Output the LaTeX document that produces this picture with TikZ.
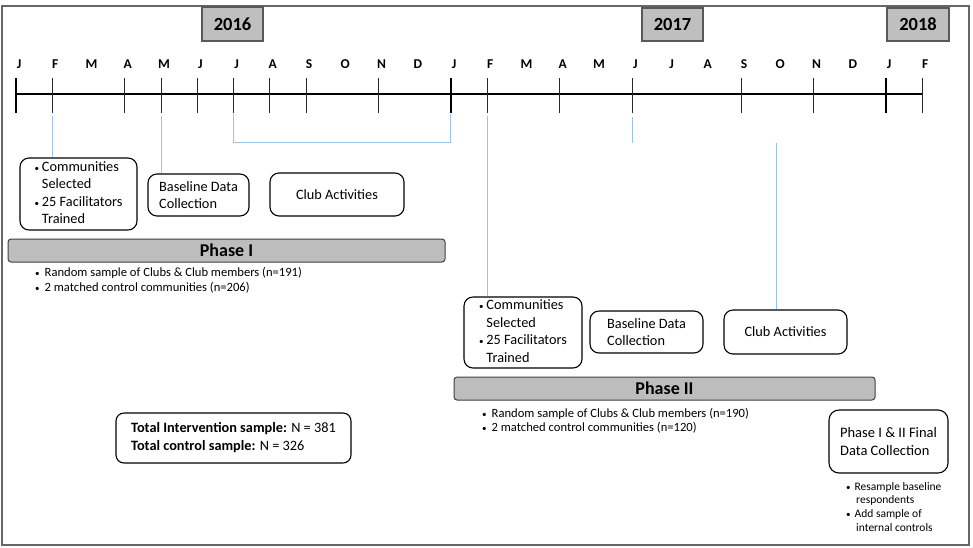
\documentclass[tikz,border=0pt]{standalone}
\usepackage{fontspec}
\setmainfont{Carlito}
\definecolor{connblue}{HTML}{9DC3E6}
\definecolor{yearfill}{HTML}{BFBFBF}
\definecolor{barfill}{HTML}{BDBDBD}
\begin{document}
\begin{tikzpicture}[x=1pt,y=-1pt,
  frame/.style={draw=black!60, line width=2pt},
  yearbox/.style={draw=black!65, line width=1.3pt, fill=yearfill, minimum width=61pt, minimum height=34pt, inner sep=0pt, font=\fontsize{18.5}{20}\selectfont\bfseries},
  monthlab/.style={font=\fontsize{13.5}{15}\selectfont\bfseries, inner sep=0pt},
  tickthin/.style={line width=0.8pt, draw=black!85},
  tickthick/.style={line width=2.4pt, draw=black},
  conn/.style={draw=connblue, line width=0.8pt},
  rbox/.style={draw=black, line width=1.1pt, rounded corners=9pt, inner sep=0pt, font=\fontsize{14.3}{17.5}\selectfont, align=left},
  phasebar/.style={draw=black!75, line width=1pt, fill=barfill, rounded corners=3pt, minimum height=23pt, inner sep=0pt, font=\fontsize{18}{20}\selectfont\bfseries},
  bline/.style={inner sep=0pt, anchor=base west, font=\fontsize{12.6}{15}\selectfont},
  fline/.style={inner sep=0pt, anchor=base west, font=\fontsize{11.5}{14}\selectfont}]
\useasboundingbox (0,0) rectangle (973,547);
\draw[frame] (1.5,5.5) rectangle (968.5,545);

% year boxes
\node[yearbox] (y16) at (232.5,24) {2016};
\node[yearbox, minimum height=33pt] (y17) at (672.5,24.5) {2017};
\node[yearbox, minimum height=33pt, minimum width=62pt] (y18) at (918,24.5) {2018};

% months
\foreach \m [count=\i from 0] in {J,F,M,A,M,J,J,A,S,O,N,D,J,F,M,A,M,J,J,A,S,O,N,D,J,F}
  \node[monthlab] (ml\i) at (19+36.25*\i, 64) {\m};

% timeline
\coordinate (t0) at (16,94);
\coordinate (t25) at (922.25,94);
\draw[line width=1.6pt] (t0) -- (t25);
\foreach \i in {1,3,4,5,6,7,8,10,13,15,17,20,22,25}
  \draw[tickthin] (16+36.25*\i,78) -- (16+36.25*\i,113);
\foreach \i in {0,12,24}
  \draw[tickthick] (16+36.25*\i,78) -- (16+36.25*\i,113);

% Phase I boxes
\node[rbox, minimum width=117pt, minimum height=72pt] (comm1) at (78.5,194)
  {\begin{tabular}{@{}l@{\hspace{3pt}}l@{}}{\small•} & Communities\\ & Selected\\ {\small•} & 25 Facilitators\\ & Trained\end{tabular}};
\node[rbox, minimum width=101pt, minimum height=42pt] (base1) at (198.5,195) {Baseline Data\\Collection};
\node[rbox, minimum width=134pt, minimum height=43pt] (club1) at (337,194.5) {Club Activities};
\node[phasebar, minimum width=437pt] (ph1) at (226.5,250.5) {Phase I};
\node[bline] (p1a) at (35,276) {{\small•}\hspace{5pt}Random sample of Clubs \& Club members (n=191)};
\node[bline] (p1b) at (35,291) {{\small•}\hspace{5pt}2 matched control communities (n=206)};

% Phase II boxes
\node[rbox, minimum width=118pt, minimum height=71pt] (comm2) at (523,332.5)
  {\begin{tabular}{@{}l@{\hspace{3pt}}l@{}}{\small•} & Communities\\ & Selected\\ {\small•} & 25 Facilitators\\ & Trained\end{tabular}};
\node[rbox, minimum width=113pt, minimum height=42pt] (base2) at (646.5,332) {Baseline Data\\Collection};
\node[rbox, minimum width=123pt, minimum height=44pt] (club2) at (785.5,332) {Club Activities};
\node[phasebar, minimum width=421pt] (ph2) at (664.5,388.5) {Phase II};
\node[bline] (p2a) at (482,417) {{\small•}\hspace{5pt}Random sample of Clubs \& Club members (n=190)};
\node[bline] (p2b) at (482,431) {{\small•}\hspace{5pt}2 matched control communities (n=120)};

% totals
\node[rbox, rounded corners=8pt, minimum width=235pt, minimum height=50pt, font=\fontsize{14.3}{18}\selectfont] (tot) at (233.5,438)
  {\textbf{Total Intervention sample:} N = 381\\\textbf{Total control sample:} N = 326\hspace{8pt}};

% final
\node[rbox, rounded corners=10pt, minimum width=119pt, minimum height=63pt, font=\fontsize{14.5}{18}\selectfont, align=left] (fin) at (888.5,441.5)
  {Phase I \& II Final\\Data Collection};
\node[fline] (f1) at (846,490) {{\small•}\hspace{4pt}Resample baseline};
\node[fline] (f2) at (856,503.5) {respondents};
\node[fline] (f3) at (846,517) {{\small•}\hspace{4pt}Add sample of};
\node[fline] (f4) at (856,531) {internal controls};

% connectors
\coordinate (cF16) at (52.25,116);
\draw[conn] (cF16) -- (comm1.north -| cF16);
\coordinate (cM16) at (161,116);
\draw[conn] (cM16) -- (base1.north -| cM16);
\coordinate (bA) at (233.5,114);
\coordinate (bB) at (233.5,142);
\coordinate (bC) at (450,142);
\coordinate (bD) at (450,114);
\draw[conn] (bA) -- (bB) -- (bC) -- (bD);
\coordinate (cF17) at (487,116);
\draw[conn] (cF17) -- (comm2.north -| cF17);
\coordinate (cJ17a) at (632,117);
\coordinate (cJ17b) at (632,143);
\draw[conn] (cJ17a) -- (cJ17b);
\coordinate (cO17) at (776,143);
\draw[conn] (cO17) -- (club2.north -| cO17);
\end{tikzpicture}
\end{document}
